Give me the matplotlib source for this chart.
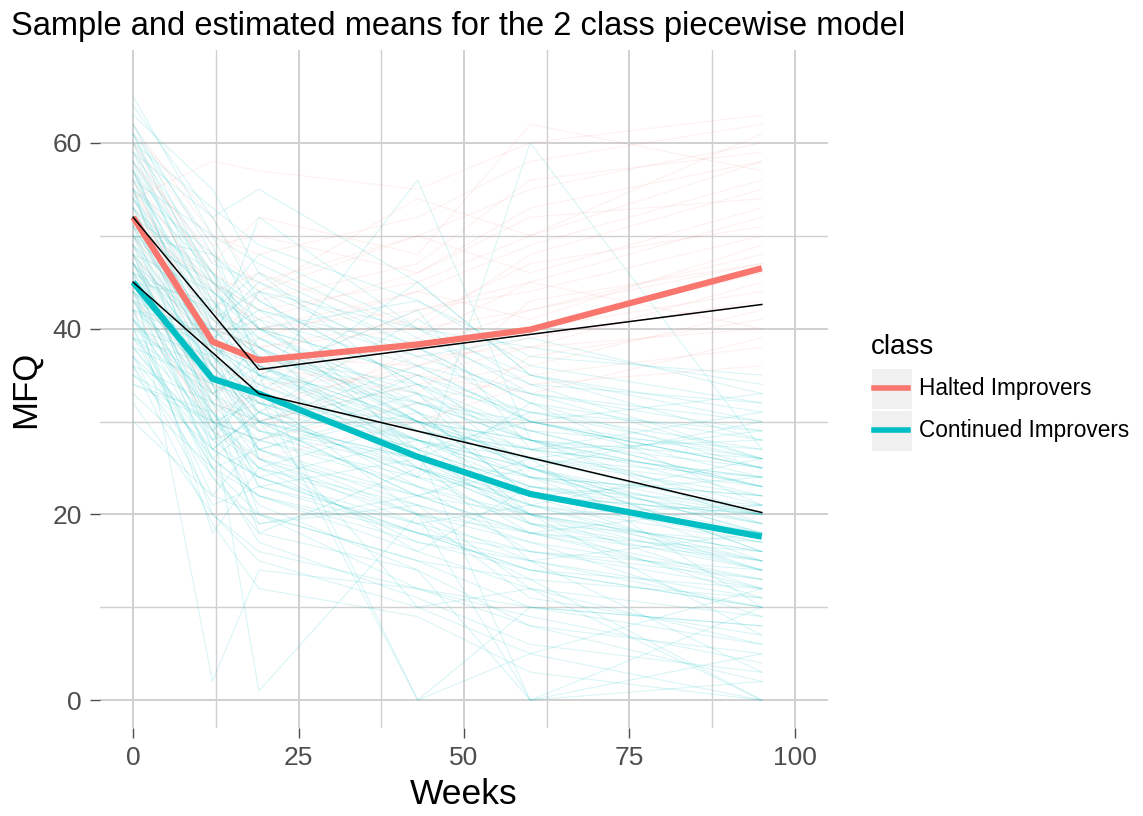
import numpy as np
import matplotlib
matplotlib.use("Agg")
import matplotlib.pyplot as plt
from matplotlib.lines import Line2D
from matplotlib.patches import Rectangle

plt.rcParams['font.family'] = ['Liberation Sans', 'DejaVu Sans']

# ---------------- data ----------------
weeks = [0, 12, 19, 43, 60, 95]

classes = ["Halted Improvers", "Continued Improvers"]
class_colors = ["#F8766D", "#00BFC4"]

# sample means per class (thick lines)
mean_halted = [52.0, 38.6, 36.6, 38.3, 39.9, 46.5]
mean_continued = [45.0, 34.6, 33.0, 26.2, 22.2, 17.6]

# model-estimated piecewise means (thin black lines)
est_weeks = [0, 19, 95]
est_halted = [52.0, 35.6, 42.6]
est_continued = [45.0, 33.0, 20.2]

nan = np.nan
# individual trajectories (faint lines), values at `weeks`
traj_continued = [
    [45, 35, 33, 26, 22, 18], [60, 40, 38, 30, 25, 20], [55, 30, 25, 20, 15, 10],
    [38, 28, 30, 22, 20, 15], [50, 45, 40, 35, 30, 25], [42, 20, 15, 10, 5, 0],
    [65, 50, 40, 30, 28, 22], [35, 30, 28, 24, 22, 20], [48, 38, 35, 28, 25, 30],
    [52, 33, 30, 25, 20, 12], [40, 25, 20, 12, 8, 5], [58, 45, 42, 38, 32, 28],
    [44, 36, 30, 22, 18, 15], [30, 22, 20, 15, 10, 8], [47, 40, 35, 30, 26, 24],
    [56, 42, 38, 25, 20, 16], [39, 30, 26, 20, 0, 5], [62, 48, 44, 40, 35, 30],
    [46, 34, 32, 28, 25, 18], [51, 38, 36, 30, 28, 26], [43, 28, 24, 18, 14, 10],
    [37, 26, 22, 16, 12, 6], [54, 44, 40, 32, 30, 24], [49, 35, 33, 0, 10, 8],
    [41, 32, 30, 26, 24, 22], [57, 40, 36, 30, 26, 20], [45, 38, 35, 32, 28, 25],
    [33, 25, 22, 18, 16, 14], [53, 36, 30, 26, 22, 20], [60, 47, 45, 36, 30, 26],
    [47, 30, 1, 20, 18, 12], [44, 18, 25, 30, 20, 14], [59, 52, 55, 45, 35, 28],
    [36, 24, 18, 14, 0, 2], [50, 42, 48, 40, 38, 34], [48, 28, 34, 56, 28, 20],
    [42, 35, 30, 10, 12, 9], [55, 46, 33, 28, 24, 22], [39, 33, 36, 29, 27, 31],
    [61, 44, 39, 33, 29, 23], [46, 2, 14, 12, 10, 6], [52, 40, 26, 22, 18, 16],
    [34, 30, 32, 27, 23, 19], [57, 36, 31, 24, 60, 27], [43, 31, 27, 21, 17, 13],
    [49, 41, 37, 34, 31, 29], [63, 55, 46, 38, 32, 25], [40, 34, 20, 15, 13, 11],
    [45, 29, 35, 25, 21, 17], [51, 37, 29, 23, 19, 15], [38, 27, 24, 19, 16, 12],
    [54, 39, 42, 31, 27, 21], [47, 33, 28, 35, 26, 23], [42, 26, 22, 17, 15, 3],
    [58, 43, 38, 29, 24, 19], [44, 37, 34, 27, 0, 10], [50, 31, 23, 18, 14, 12],
    [36, 32, 29, 25, 21, 18], [53, 45, 41, 36, 33, 30], [41, 24, 19, 22, 25, 16],
    [48, 36, 44, 26, 20, 7], [56, 38, 34, 28, 23, 21], [46, 42, 39, 30, 27, 24],
    [32, 20, 16, 12, 9, 4], [59, 41, 37, 32, 29, 27], [45, 27, 31, 24, 19, 14],
    [52, 35, 32, 27, 30, 25], [39, 36, 27, 20, 17, 9], [47, 32, 26, 19, 13, 0],
    [55, 48, 43, 34, 28, 23], [43, 33, 37, 33, 24, 20], [50, 39, 31, 25, 22, 17],
    [61, 49, 36, 27, 23, 18], [44, 30, 28, 23, 20, 16], [37, 29, 25, 21, 18, 13],
    [53, 37, 33, 29, 26, 22], [48, 44, 40, 31, 25, 19], [41, 31, 24, 18, 15, 11],
    [57, 46, 40, 35, 31, 26], [46, 35, 29, 26, 21, 15],
    [49, 38, 52, 40, 33, 29], [43, 39, 33, 45, 35, 31], [58, 34, 27, 31, 22, 14],
    [40, 22, 28, 33, 21, 26], [54, 41, 44, 37, 39, 33], [37, 21, 23, 26, 15, 18],
    [62, 45, 35, 42, 27, 24], [45, 43, 37, 24, 32, 21], [51, 30, 19, 21, 12, 0],
    [35, 27, 31, 28, 26, 29], [56, 50, 47, 39, 34, 32], [42, 38, 26, 16, 23, 20],
    [48, 29, 21, 14, 8, 2], [60, 53, 49, 43, 37, 35], [44, 26, 30, 34, 29, 23],
    [52, 46, 38, 26, 31, 27], [39, 25, 17, 11, 6, 3], [57, 39, 41, 27, 19, 11],
    [46, 40, 45, 38, 30, 25], [50, 35, 27, 32, 28, 19], [34, 31, 25, 17, 14, 10],
    [64, 52, 43, 34, 25, 16], [47, 37, 40, 43, 36, 32], [41, 29, 33, 20, 11, 7],
    [53, 43, 35, 29, 27, 28], [38, 34, 38, 31, 22, 24], [55, 37, 32, 23, 16, 13],
    [45, 32, 18, 25, 18, 21], [59, 46, 42, 37, 33, 26], [49, 27, 24, 28, 24, 15],
    [42, 40, 35, 0, 5, 12], [51, 44, 30, 36, 30, 33], [36, 19, 12, 9, 3, 0],
    [47, 36, 31, 41, 34, 26], [55, 32, 39, 30, 25, 18], [44, 34, 23, 19, 21, 14],
    [61, 42, 46, 33, 28, 23], [40, 37, 32, 30, 19, 17], [50, 48, 36, 28, 20, 21],
    [46, 25, 27, 22, 26, 10],
]

traj_halted = [
    [52, 40, 38, 40, 42, 48], [60, 45, 42, 45, 50, 58], [45, 35, 32, 36, 40, 44],
    [55, 42, 40, 42, 45, 52], [50, 36, 34, 35, 38, 40], [58, 48, 45, 50, 55, 60],
    [48, 32, 30, 34, 36, 42], [62, 50, 48, 52, 58, 62], [42, 30, 28, 32, 35, 38],
    [54, 38, 36, 38, 40, 46], [56, 44, 46, 40, 48, 55], [47, 33, 35, 42, 44, 50],
    [53, 41, 37, 36, 39, 43], [59, 47, 52, 48, 62, 57], [44, 29, 26, 30, 34, 36],
    [51, 37, 39, 44, 41, 49], [57, 43, 41, 46, 52, 54], [49, 34, 31, 37, 38, 45],
    [46, 31, 33, 29, 37, 41], [61, 52, 44, 54, 50, 61], [50, 39, 36, 33, 43, 47],
    [55, 40, 38, 41, 47, 51], [43, 36, 30, 35, 33, 39], [58, 46, 43, 47, 56, 59],
    [54, 58, 57, 55, 60, 63], [48, 38, 44, 50, 46, 53], [56, 37, 33, 39, 45, 40],
    [51, 45, 40, 44, 49, 56], [45, 33, 29, 38, 42, 47], [60, 49, 50, 46, 53, 58],
]

# ---------------- plot ----------------
W, H = 1143, 816
fig = plt.figure(figsize=(W / 100, H / 100), dpi=100)
fig.patch.set_facecolor("white")
ax = fig.add_axes([100 / W, 1 - 728 / H, 728 / W, 678 / H])

grid_c = "#d0d0d0"
ax.set_xticks([0, 25, 50, 75, 100])
ax.set_xticks([12.5, 37.5, 62.5, 87.5], minor=True)
ax.set_yticks([0, 20, 40, 60])
ax.set_yticks([10, 30, 50], minor=True)
ax.grid(True, which="major", color=grid_c, linewidth=1.4, zorder=0)
ax.grid(True, which="minor", color=grid_c, linewidth=1.0, zorder=0)
ax.set_axisbelow(True)

for tr in traj_continued:
    ax.plot(weeks, tr, color=class_colors[1], alpha=0.15, linewidth=0.8, zorder=1)
for tr in traj_halted:
    ax.plot(weeks, tr, color=class_colors[0], alpha=0.10, linewidth=0.8, zorder=1)

ax.plot(weeks, mean_halted, color=class_colors[0], linewidth=4.5, zorder=3,
        solid_capstyle="butt")
ax.plot(weeks, mean_continued, color=class_colors[1], linewidth=4.5, zorder=3,
        solid_capstyle="butt")
ax.plot(est_weeks, est_halted, color="black", linewidth=1.1, zorder=4)
ax.plot(est_weeks, est_continued, color="black", linewidth=1.1, zorder=4)

ax.set_xlim(-5, 105)
ax.set_ylim(-3.0, 70)
for s in ax.spines.values():
    s.set_visible(False)
ax.tick_params(axis="both", which="major", colors="#4d4d4d", labelsize=19,
               length=7, width=1.0, pad=6)
ax.tick_params(axis="both", which="minor", length=0)
ax.set_xlabel("Weeks", fontsize=25.5, color="black", labelpad=6)
ax.set_ylabel("MFQ", fontsize=25, color="black", labelpad=8)

fig.text(11 / W, 1 - 27 / H, "Sample and estimated means for the 2 class piecewise model",
         fontsize=23.5, color="black", va="center", ha="left")

# legend (manual)
fig.text(871 / W, 1 - 347 / H, "class", fontsize=20, va="center", ha="left")
for i, (lab, col) in enumerate(zip(classes, class_colors)):
    y0 = 368 + i * 42
    fig.add_artist(Rectangle((871 / W, 1 - (y0 + 41) / H), 41 / W, 41 / H,
                             transform=fig.transFigure, facecolor="#f0f0f0",
                             edgecolor="white", linewidth=0.8))
    yc = 1 - (y0 + 20) / H
    fig.add_artist(Line2D([874 / W, 908 / W], [yc, yc], transform=fig.transFigure,
                          color=col, linewidth=4))
    fig.text(919 / W, yc, lab, fontsize=16.3, va="center", ha="left")

fig.savefig("out.png", dpi=100)
